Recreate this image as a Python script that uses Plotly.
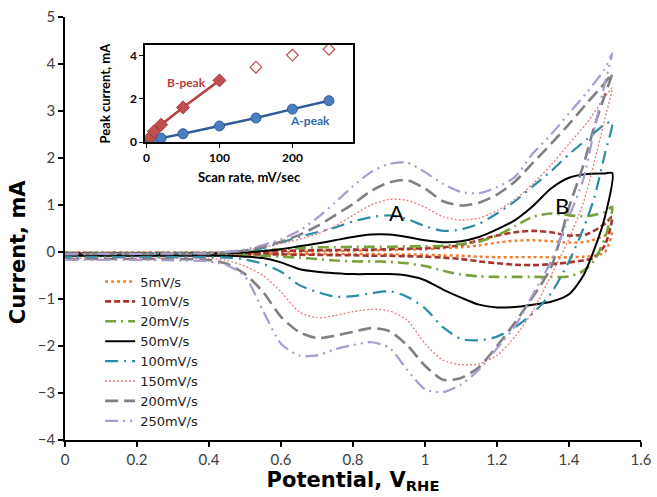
import plotly.graph_objects as go

# ---------------- data ----------------
scan_labels = ["5mV/s", "10mV/s", "20mV/s", "50mV/s", "100mV/s", "150mV/s", "200mV/s", "250mV/s"]

# forward (anodic) scan potentials, V
up_x = [0, 0.1, 0.2, 0.3, 0.4, 0.5, 0.55, 0.6, 0.65, 0.7, 0.75, 0.8, 0.85, 0.9, 0.95,
        1.0, 1.05, 1.1, 1.15, 1.2, 1.25, 1.3, 1.35, 1.4, 1.45, 1.5, 1.52]
# reverse (cathodic) scan potentials, V
low_x = [1.5, 1.47, 1.44, 1.4, 1.35, 1.3, 1.25, 1.2, 1.15, 1.1, 1.05, 1.0, 0.95, 0.9,
         0.85, 0.8, 0.75, 0.7, 0.65, 0.6, 0.55, 0.5, 0.45, 0.4, 0.3, 0.2, 0.1, 0.0]

up_5 = [-0.01, -0.01, -0.01, -0.01, -0.01, -0.01, -0.01, -0.01, 0.0, 0.02, 0.02, 0.03, 0.03, 0.04, 0.05,
        0.06, 0.08, 0.1, 0.14, 0.2, 0.24, 0.25, 0.23, 0.2, 0.22, 0.35, 0.45]
low_5 = [0.0, -0.08, -0.1, -0.11, -0.11, -0.11, -0.11, -0.11, -0.1, -0.08, -0.07, -0.06, -0.05, -0.05,
         -0.04, -0.04, -0.04, -0.04, -0.04, -0.04, -0.04, -0.04, -0.04, -0.04, -0.04, -0.04, -0.04, -0.04]

up_10 = [-0.02, -0.02, -0.02, -0.02, -0.02, -0.02, 0.0, 0.02, 0.03, 0.04, 0.04, 0.05, 0.05, 0.06, 0.07,
         0.08, 0.1, 0.15, 0.25, 0.35, 0.42, 0.45, 0.42, 0.35, 0.38, 0.6, 0.75]
low_10 = [0.15, -0.12, -0.18, -0.22, -0.26, -0.28, -0.27, -0.24, -0.2, -0.15, -0.12, -0.1, -0.09, -0.08,
          -0.08, -0.07, -0.07, -0.06, -0.06, -0.05, -0.05, -0.05, -0.05, -0.05, -0.05, -0.05, -0.05, -0.05]

up_20 = [-0.02, -0.02, -0.02, -0.02, -0.02, 0.0, 0.03, 0.06, 0.08, 0.1, 0.1, 0.11, 0.11, 0.11, 0.12,
         0.12, 0.13, 0.17, 0.22, 0.35, 0.55, 0.75, 0.82, 0.78, 0.76, 0.85, 0.96]
low_20 = [0.3, -0.18, -0.4, -0.52, -0.53, -0.53, -0.53, -0.53, -0.52, -0.48, -0.4, -0.3, -0.24, -0.21,
          -0.2, -0.2, -0.18, -0.15, -0.12, -0.1, -0.08, -0.07, -0.07, -0.07, -0.07, -0.07, -0.07, -0.07]

up_50 = [-0.03, -0.03, -0.03, -0.03, -0.03, -0.01, 0.02, 0.06, 0.12, 0.18, 0.25, 0.32, 0.37, 0.37, 0.32,
         0.25, 0.21, 0.23, 0.32, 0.48, 0.68, 0.98, 1.35, 1.58, 1.66, 1.67, 1.68]
low_50 = [0.75, 0.05, -0.5, -0.9, -1.06, -1.12, -1.17, -1.18, -1.12, -0.97, -0.8, -0.6, -0.5, -0.47,
          -0.47, -0.47, -0.45, -0.42, -0.36, -0.22, -0.13, -0.1, -0.08, -0.08, -0.08, -0.08, -0.08, -0.08]

up_100 = [-0.03, -0.03, -0.03, -0.03, -0.03, 0.02, 0.08, 0.2, 0.32, 0.42, 0.52, 0.65, 0.74, 0.78, 0.7,
          0.55, 0.45, 0.48, 0.6, 0.82, 1.08, 1.4, 1.72, 2.08, 2.4, 2.72, 2.77]
low_100 = [2.1, 1.15, 0.5, -0.2, -0.88, -1.3, -1.6, -1.8, -1.88, -1.85, -1.6, -1.2, -0.95, -0.83,
           -0.88, -0.94, -0.95, -0.85, -0.7, -0.42, -0.25, -0.16, -0.12, -0.11, -0.11, -0.11, -0.11, -0.11]

up_150 = [-0.03, -0.03, -0.03, -0.03, -0.03, 0.03, 0.1, 0.18, 0.27, 0.38, 0.55, 0.78, 1.0, 1.12, 1.1,
          0.95, 0.75, 0.68, 0.72, 0.88, 1.12, 1.45, 1.85, 2.3, 2.75, 3.3, 3.49]
low_150 = [2.85, 1.9, 1.05, 0.28, -0.5, -1.25, -1.8, -2.2, -2.38, -2.4, -2.3, -1.95, -1.45, -1.25,
           -1.22, -1.27, -1.35, -1.4, -1.27, -0.85, -0.5, -0.3, -0.18, -0.14, -0.13, -0.13, -0.13, -0.13]

up_200 = [-0.04, -0.04, -0.04, -0.04, -0.04, 0.03, 0.12, 0.22, 0.36, 0.55, 0.78, 1.02, 1.3, 1.48, 1.53,
          1.35, 1.08, 0.99, 1.05, 1.22, 1.5, 1.9, 2.3, 2.72, 3.17, 3.6, 3.8]
low_200 = [3.35, 2.66, 1.85, 0.95, -0.33, -0.95, -1.5, -2.0, -2.45, -2.68, -2.72, -2.42, -1.98, -1.68,
           -1.62, -1.7, -1.78, -1.83, -1.7, -1.38, -0.85, -0.47, -0.25, -0.17, -0.15, -0.15, -0.15, -0.15]

up_250 = [-0.05, -0.04, -0.04, -0.03, -0.02, 0.05, 0.15, 0.27, 0.45, 0.72, 1.05, 1.4, 1.7, 1.87, 1.9,
          1.7, 1.45, 1.28, 1.25, 1.38, 1.6, 2.1, 2.5, 2.95, 3.4, 3.9, 4.23]
low_250 = [3.6, 2.6, 1.55, 0.75, -0.2, -0.9, -1.58, -2.05, -2.5, -2.82, -2.98, -2.92, -2.5, -2.03,
           -1.92, -1.98, -2.07, -2.2, -2.2, -1.95, -1.25, -0.52, -0.28, -0.2, -0.18, -0.17, -0.17, -0.17]

up_series = [up_5, up_10, up_20, up_50, up_100, up_150, up_200, up_250]
low_series = [low_5, low_10, low_20, low_50, low_100, low_150, low_200, low_250]

# inset: peak current vs scan rate
scan_rate = [5, 10, 20, 50, 100, 150, 200, 250]
a_peak = [0.05, 0.1, 0.19, 0.39, 0.75, 1.12, 1.53, 1.92]
b_rate_fit = [5, 10, 20, 50, 100]
b_peak_fit = [0.23, 0.5, 0.81, 1.61, 2.86]
b_rate_open = [150, 200, 250]
b_peak_open = [3.47, 4.03, 4.3]

# ---------------- styles ----------------
colors = ["#EE7D2D", "#A8322E", "#77A23B", "#000000", "#2B8CA6", "#E8797C", "#808080", "#A99BD0"]
dashes = ["dot", "6px,3px", "11px,5px,2px,5px", "solid", "13px,6px,2px,6px", "2px,2px",
          "13px,6px", "13px,5px,2px,5px,2px,5px"]
widths = [2.4, 2.6, 2.6, 2.0, 2.2, 1.3, 2.6, 2.2]

fig = go.Figure()
for lab, u, l, c, d, w in zip(scan_labels, up_series, low_series, colors, dashes, widths):
    fig.add_trace(go.Scatter(
        x=up_x + low_x, y=u + l, mode="lines", name=lab,
        line=dict(color=c, dash=d, width=w, shape="spline", smoothing=0.7),
        xaxis="x", yaxis="y"))

# inset traces
fig.add_trace(go.Scatter(x=scan_rate, y=a_peak, mode="lines+markers", showlegend=False,
                         line=dict(color="#2F5C99", width=2.5),
                         marker=dict(symbol="circle", size=10, color="#4A7EBF",
                                     line=dict(color="#2F5C99", width=1)),
                         xaxis="x2", yaxis="y2"))
fig.add_trace(go.Scatter(x=b_rate_fit, y=b_peak_fit, mode="lines+markers", showlegend=False,
                         line=dict(color="#B9423F", width=2.5),
                         marker=dict(symbol="diamond", size=10, color="#C0504D",
                                     line=dict(color="#A33A37", width=1)),
                         xaxis="x2", yaxis="y2"))
fig.add_trace(go.Scatter(x=b_rate_open, y=b_peak_open, mode="markers", showlegend=False,
                         marker=dict(symbol="diamond-open", size=9, color="#C0504D",
                                     line=dict(width=1.2)),
                         xaxis="x2", yaxis="y2"))

tickfont = dict(family="Lato", size=15, color="#404040")
titlefont = dict(family="DejaVu Sans", size=21, color="black", weight="bold")
fig.update_layout(
    width=657, height=497,
    margin=dict(l=65, r=16, t=17, b=57, autoexpand=False),
    paper_bgcolor="white", plot_bgcolor="rgba(0,0,0,0)",
    font=dict(family="Lato", color="#000"),
    xaxis=dict(range=[0, 1.6], dtick=0.2, tick0=0, showgrid=False, zeroline=False,
               automargin=True,
               showline=True, linecolor="black", linewidth=1.5,
               ticks="outside", ticklen=5, tickwidth=1.5, tickcolor="black",
               tickfont=tickfont,
               title=dict(text="Potential, V<sub>RHE</sub>", font=titlefont, standoff=5)),
    yaxis=dict(range=[-4, 5], dtick=1, showgrid=False, zeroline=False,
               automargin=True,
               showline=True, linecolor="black", linewidth=1.5,
               ticks="outside", ticklen=5, tickwidth=1.5, tickcolor="black",
               tickfont=tickfont),
    xaxis2=dict(domain=[0.139, 0.5], anchor="y2", range=[-2, 283], tickvals=[0, 100, 200],
                automargin=True,
                showgrid=False, zeroline=False, showline=True, mirror=True,
                linecolor="black", linewidth=1.5, ticks="outside", ticklen=4, tickcolor="black",
                tickfont=dict(family="Lato", size=12, color="black", weight="bold"),
                title=dict(text="Scan rate, mV/sec",
                           font=dict(family="Lato", size=13, color="black", weight="bold"),
                           standoff=9)),
    yaxis2=dict(domain=[0.704, 0.934], anchor="x2", range=[0, 4.5], tickvals=[0, 2, 4],
                automargin=True,
                showgrid=False, zeroline=False, showline=True, mirror=True,
                linecolor="black", linewidth=1.5, ticks="outside", ticklen=4, tickcolor="black",
                tickfont=dict(family="Lato", size=12, color="black", weight="bold"),
                title=dict(text="Peak current, mA",
                           font=dict(family="Lato", size=13, color="black", weight="bold"),
                           standoff=16)),
    legend=dict(x=0.061, y=0.41, xanchor="left", yanchor="top",
                bgcolor="rgba(0,0,0,0)", borderwidth=0,
                font=dict(family="DejaVu Sans", size=13, color="#222"),
                tracegroupgap=0, itemwidth=30),
    annotations=[
        dict(x=-0.0816, y=0.444, xref="paper", yref="paper", text="Current, mA",
             textangle=-90, showarrow=False, xanchor="center", yanchor="middle",
             font=titlefont),
        dict(x=0.922, y=0.85, xref="x", yref="y", text="A", showarrow=False,
             font=dict(family="Lato", size=22, color="black")),
        dict(x=1.38, y=0.98, xref="x", yref="y", text="B", showarrow=False,
             font=dict(family="Lato", size=22, color="black")),
        dict(x=55, y=2.78, xref="x2", yref="y2", text="B-peak", showarrow=False,
             font=dict(family="Lato", size=12, color="#B5403E", weight="bold")),
        dict(x=224, y=1.0, xref="x2", yref="y2", text="A-peak", showarrow=False,
             font=dict(family="Lato", size=12, color="#3568A8", weight="bold")),
    ],
)

fig.write_html("out.html")
